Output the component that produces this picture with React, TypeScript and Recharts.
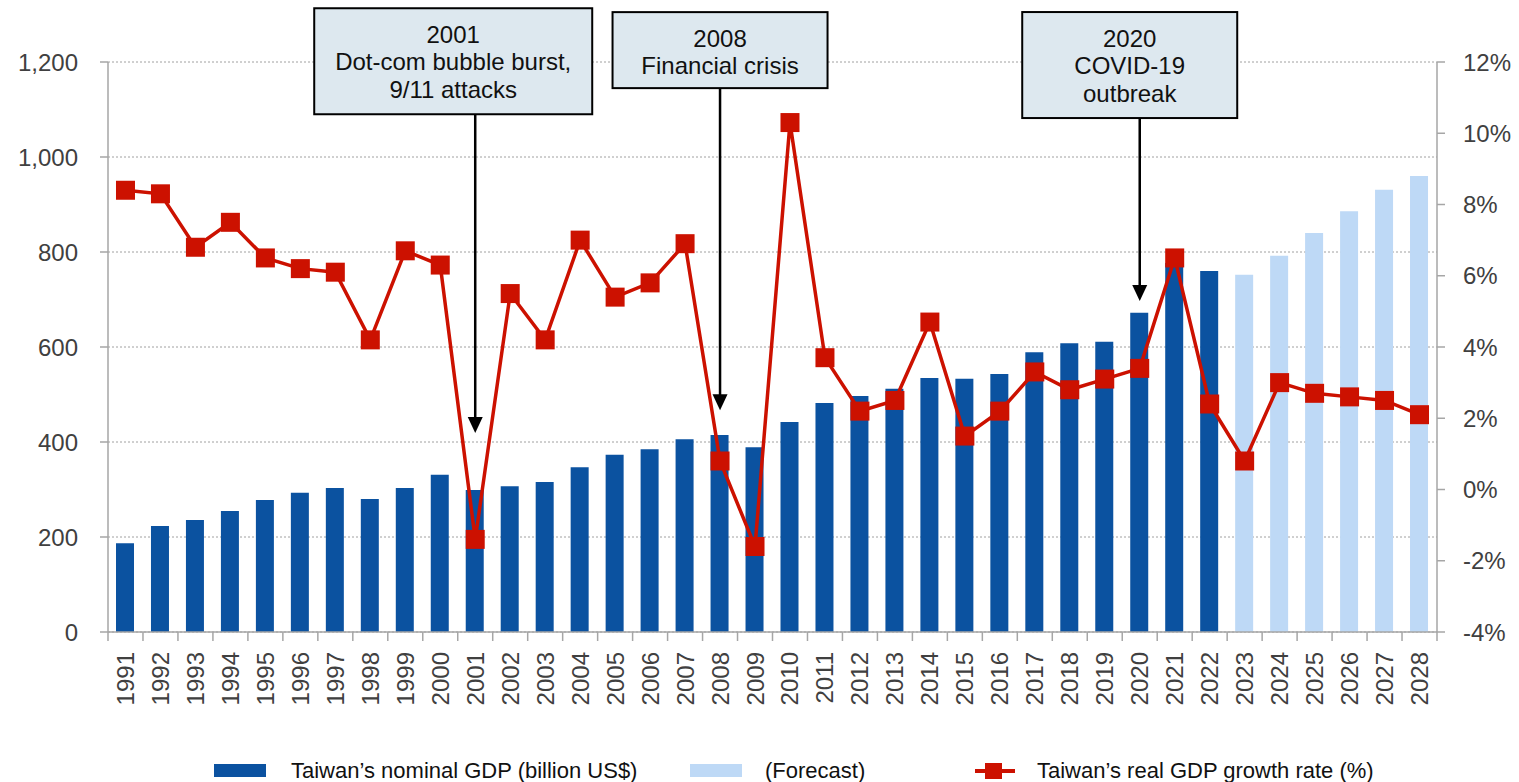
import {
  ComposedChart, Bar, Line, XAxis, YAxis, CartesianGrid, ReferenceLine,
} from 'recharts';

const YEARS: string[] = [
  '1991', '1992', '1993', '1994', '1995', '1996', '1997', '1998', '1999', '2000',
  '2001', '2002', '2003', '2004', '2005', '2006', '2007', '2008', '2009', '2010',
  '2011', '2012', '2013', '2014', '2015', '2016', '2017', '2018', '2019', '2020',
  '2021', '2022', '2023', '2024', '2025', '2026', '2027', '2028',
];

// Nominal GDP, billion US$ (1991–2022 actual)
const NOMINAL_GDP: number[] = [
  187, 223, 236, 255, 278, 293, 303, 280, 303, 331,
  299, 307, 316, 347, 373, 385, 406, 415, 389, 442,
  482, 497, 512, 535, 533, 543, 589, 608, 611, 672,
  777, 760,
];

// Forecast years 2023–2028
const FORECAST_GDP: number[] = [752, 792, 840, 886, 931, 960];

// Real GDP growth rate, %
const GROWTH: number[] = [
  8.4, 8.3, 6.8, 7.5, 6.5, 6.2, 6.1, 4.2, 6.7, 6.3,
  -1.4, 5.5, 4.2, 7.0, 5.4, 5.8, 6.9, 0.8, -1.6, 10.3,
  3.7, 2.2, 2.5, 4.7, 1.5, 2.2, 3.3, 2.8, 3.1, 3.4,
  6.5, 2.4, 0.8, 3.0, 2.7, 2.6, 2.5, 2.1,
];

const GDP_TICKS = [0, 200, 400, 600, 800, 1000, 1200];
const GROWTH_TICKS = [-4, -2, 0, 2, 4, 6, 8, 10, 12];

const EVENTS = [
  { year: '2001', from: 1090, to: 419, lines: ['2001', 'Dot-com bubble burst,', '9/11 attacks'] },
  { year: '2008', from: 1145, to: 467, lines: ['2008', 'Financial crisis'] },
  { year: '2020', from: 1082, to: 697, lines: ['2020', 'COVID-19', 'outbreak'] },
];

// box geometry per event (px)
const BOX_STYLE: Record<string, { w: number; h: number; dx: number }> = {
  '2001': { w: 278, h: 106, dx: -22 },
  '2008': { w: 215, h: 76, dx: 0 },
  '2020': { w: 215, h: 106, dx: -10 },
};

const NAVY = '#0b52a0';
const LIGHT = '#bed9f6';
const RED = '#cc1100';
const AXIS = '#a6a6a6';
const TEXT = '#404040';
const FONT = '"Liberation Sans", Arial, sans-serif';

const data = YEARS.map((year, i) => ({
  year,
  nominal: i < NOMINAL_GDP.length ? NOMINAL_GDP[i] : undefined,
  forecast: i >= NOMINAL_GDP.length ? FORECAST_GDP[i - NOMINAL_GDP.length] : undefined,
  growth: GROWTH[i],
}));

const YearTick = (props: any) => {
  const { x, y, payload, index, width } = props;
  const half = (width || 1329) / YEARS.length / 2;
  return (
    <g>
      <line x1={x - half} y1={y} x2={x - half} y2={y + 9} stroke={AXIS} strokeWidth={1.5} />
      {index === YEARS.length - 1 && (
        <line x1={x + half} y1={y} x2={x + half} y2={y + 9} stroke={AXIS} strokeWidth={1.5} />
      )}
      <text
        x={x}
        y={y + 20}
        transform={`rotate(-90 ${x} ${y + 20})`}
        textAnchor="end"
        dominantBaseline="central"
        fill={TEXT}
        fontSize={24}
        fontFamily={FONT}
      >
        {payload.value}
      </text>
    </g>
  );
};

const SquareDot = (props: any) => {
  const { cx, cy, index } = props;
  if (cx == null || cy == null) return null;
  return <rect key={index} x={cx - 9.5} y={cy - 9.5} width={19} height={19} fill={RED} />;
};

const eventShape = (ev: typeof EVENTS[number]) => (props: any) => {
  const { x1, y1, y2 } = props;
  const top = Math.min(y1, y2);
  const tip = Math.max(y1, y2);
  const box = BOX_STYLE[ev.year];
  const bx = x1 + box.dx - box.w / 2;
  const by = top - box.h;
  return (
    <g>
      <line x1={x1} y1={top} x2={x1} y2={tip - 14} stroke="#000" strokeWidth={2.5} />
      <polygon points={`${x1 - 7.5},${tip - 16} ${x1 + 7.5},${tip - 16} ${x1},${tip}`} fill="#000" />
      <rect x={bx} y={by} width={box.w} height={box.h} fill="#dde8ef" stroke="#000" strokeWidth={2} />
      {ev.lines.map((ln, i) => (
        <text
          key={i}
          x={bx + box.w / 2}
          y={by + 26 + i * 27.5}
          textAnchor="middle"
          dominantBaseline="central"
          fontSize={24}
          fontFamily={FONT}
          fill="#111"
        >
          {ln}
        </text>
      ))}
    </g>
  );
};

const legendText: React.CSSProperties = {
  position: 'absolute',
  top: 758,
  fontSize: 22,
  lineHeight: '25px',
  fontFamily: FONT,
  color: '#111',
  whiteSpace: 'nowrap',
};

export default function App() {
  return (
    <div style={{ position: 'absolute', left: 0, top: 0, width: 1519, height: 782, background: '#fff', overflow: 'hidden' }}>
      <ComposedChart
        width={1519}
        height={722}
        data={data}
        margin={{ top: 62, right: 0, bottom: 0, left: 0 }}
        barSize={18}
      >
        <CartesianGrid
          yAxisId="left"
          vertical={false}
          stroke="#a0a0a0"
          strokeDasharray="2 2"
        />
        <XAxis
          dataKey="year"
          interval={0}
          tickSize={0}
          tickMargin={0}
          tickLine={false}
          axisLine={{ stroke: AXIS, strokeWidth: 1.5 }}
          height={90}
          tick={<YearTick />}
        />
        <YAxis
          yAxisId="left"
          domain={[0, 1200]}
          ticks={GDP_TICKS}
          width={108}
          tickSize={8}
          tickMargin={22}
          axisLine={{ stroke: AXIS, strokeWidth: 1.5 }}
          tickLine={{ stroke: AXIS, strokeWidth: 1.5 }}
          tick={{ fill: TEXT, fontSize: 24, fontFamily: FONT }}
          tickFormatter={(v: number) => v.toLocaleString('en-US')}
        />
        <YAxis
          yAxisId="right"
          orientation="right"
          domain={[-4, 12]}
          ticks={GROWTH_TICKS}
          width={82}
          tickSize={8}
          tickMargin={18}
          axisLine={{ stroke: AXIS, strokeWidth: 1.5 }}
          tickLine={{ stroke: AXIS, strokeWidth: 1.5 }}
          tick={{ fill: TEXT, fontSize: 24, fontFamily: FONT }}
          tickFormatter={(v: number) => `${v}%`}
        />
        <Bar yAxisId="left" dataKey="nominal" stackId="gdp" fill={NAVY} isAnimationActive={false} />
        <Bar yAxisId="left" dataKey="forecast" stackId="gdp" fill={LIGHT} isAnimationActive={false} />
        {EVENTS.map((ev) => (
          <ReferenceLine
            key={ev.year}
            yAxisId="left"
            ifOverflow="visible"
            segment={[{ x: ev.year, y: ev.from }, { x: ev.year, y: ev.to }]}
            shape={eventShape(ev)}
          />
        ))}
        <Line
          yAxisId="right"
          dataKey="growth"
          stroke={RED}
          strokeWidth={3.5}
          dot={<SquareDot />}
          activeDot={false}
          isAnimationActive={false}
        />
      </ComposedChart>

      <div style={{ position: 'absolute', left: 214, top: 764, width: 52, height: 13, background: NAVY }} />
      <div style={{ ...legendText, left: 291 }}>Taiwan’s nominal GDP (billion US$)</div>
      <div style={{ position: 'absolute', left: 690, top: 764, width: 52, height: 13, background: LIGHT }} />
      <div style={{ ...legendText, left: 765 }}>(Forecast)</div>
      <div style={{ position: 'absolute', left: 975, top: 769, width: 40, height: 4, background: RED }} />
      <div style={{ position: 'absolute', left: 985, top: 763, width: 17, height: 16, background: RED }} />
      <div style={{ ...legendText, left: 1037 }}>Taiwan’s real GDP growth rate (%)</div>
    </div>
  );
}
